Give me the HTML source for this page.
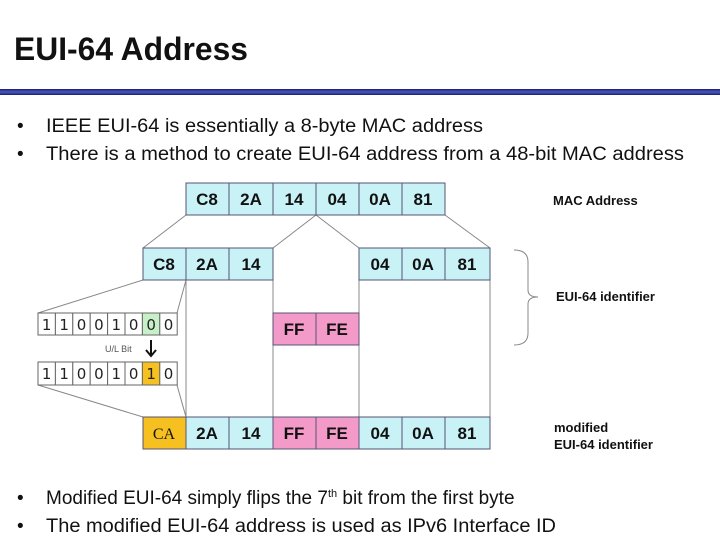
<!DOCTYPE html>
<html><head><meta charset="utf-8"><style>
html,body{margin:0;padding:0;background:#fff;}
svg{display:block;}
</style></head><body>
<svg width="720" height="539" xmlns="http://www.w3.org/2000/svg" font-family="Liberation Sans, sans-serif">
<defs>
<linearGradient id="bl" x1="0" y1="0" x2="0" y2="1">
<stop offset="0" stop-color="#1a1f6e"/><stop offset="0.5" stop-color="#4a58c0"/><stop offset="1" stop-color="#1a1f6e"/>
</linearGradient>
</defs>
<text x="14" y="60" font-size="32" font-weight="bold" fill="#111" textLength="234" lengthAdjust="spacingAndGlyphs">EUI-64 Address</text>
<rect x="0" y="89" width="720" height="6" fill="url(#bl)"/>
<g font-size="19" fill="#111">
<text x="17" y="132">•</text><text x="46" y="132" textLength="437" lengthAdjust="spacingAndGlyphs">IEEE EUI-64 is essentially a 8-byte MAC address</text>
<text x="17" y="160">•</text><text x="46" y="160" textLength="638" lengthAdjust="spacingAndGlyphs">There is a method to create EUI-64 address  from a 48-bit MAC address</text>
<text x="17" y="504">•</text><text x="46" y="504">Modified EUI-64 simply flips the 7<tspan font-size="11" dy="-7">th</tspan><tspan dy="7"> bit from the first byte</tspan></text>
<text x="17" y="532">•</text><text x="46" y="532" textLength="510" lengthAdjust="spacingAndGlyphs">The modified EUI-64 address is used as IPv6 Interface ID</text>
</g>
<!-- connectors -->
<g stroke="#888" stroke-width="1" fill="none">
<line x1="186" y1="215" x2="143" y2="248"/>
<line x1="316" y1="215" x2="273" y2="248"/>
<line x1="316" y1="215" x2="359" y2="248"/>
<line x1="445" y1="215" x2="490" y2="248"/>
<line x1="143" y1="280" x2="38" y2="313"/>
<line x1="186" y1="280" x2="177" y2="313"/>
<line x1="38" y1="385" x2="143" y2="417"/>
<line x1="177" y1="385" x2="186" y2="417"/>
<line x1="186" y1="280" x2="186" y2="417"/>
<line x1="273" y1="248" x2="273" y2="417"/>
<line x1="359" y1="248" x2="359" y2="417"/>
<line x1="490" y1="280" x2="490" y2="417"/>
<path d="M514 250 Q528 250 528 262 L528 290 Q528 297 538 297 Q528 297 528 304 L528 333 Q528 345 514 345"/>
</g>
<g stroke="#557" stroke-width="1" font-size="17" font-weight="bold" text-anchor="middle" fill="#111">
<g>
<rect x="186" y="183" width="43" height="32" fill="#c8f2f6"/><rect x="229" y="183" width="44" height="32" fill="#c8f2f6"/><rect x="273" y="183" width="43" height="32" fill="#c8f2f6"/><rect x="316" y="183" width="43" height="32" fill="#c8f2f6"/><rect x="359" y="183" width="43" height="32" fill="#c8f2f6"/><rect x="402" y="183" width="43" height="32" fill="#c8f2f6"/>
</g>
<g stroke="none">
<text x="207" y="205">C8</text><text x="251" y="205">2A</text><text x="294" y="205">14</text><text x="337" y="205">04</text><text x="380" y="205">0A</text><text x="423" y="205">81</text>
</g>
<rect x="143" y="248" width="43" height="32" fill="#c8f2f6"/><rect x="186" y="248" width="43" height="32" fill="#c8f2f6"/><rect x="229" y="248" width="44" height="32" fill="#c8f2f6"/>
<rect x="359" y="248" width="43" height="32" fill="#c8f2f6"/><rect x="402" y="248" width="43" height="32" fill="#c8f2f6"/><rect x="445" y="248" width="45" height="32" fill="#c8f2f6"/>
<g stroke="none">
<text x="164" y="270">C8</text><text x="207" y="270">2A</text><text x="251" y="270">14</text><text x="380" y="270">04</text><text x="423" y="270">0A</text><text x="467" y="270">81</text>
</g>
<rect x="273" y="313" width="43" height="32" fill="#f49ac8"/><rect x="316" y="313" width="43" height="32" fill="#f49ac8"/>
<g stroke="none"><text x="294" y="335">FF</text><text x="337" y="335">FE</text></g>
<rect x="143" y="417" width="43" height="32" fill="#f6c020"/>
<rect x="186" y="417" width="43" height="32" fill="#c8f2f6"/><rect x="229" y="417" width="44" height="32" fill="#c8f2f6"/>
<rect x="273" y="417" width="43" height="32" fill="#f49ac8"/><rect x="316" y="417" width="43" height="32" fill="#f49ac8"/>
<rect x="359" y="417" width="43" height="32" fill="#c8f2f6"/><rect x="402" y="417" width="43" height="32" fill="#c8f2f6"/><rect x="445" y="417" width="45" height="32" fill="#c8f2f6"/>
<g stroke="none">
<text x="164" y="439" font-family="Liberation Serif, serif" font-weight="normal" font-size="16">CA</text><text x="207" y="439">2A</text><text x="251" y="439">14</text><text x="294" y="439">FF</text><text x="337" y="439">FE</text><text x="380" y="439">04</text><text x="423" y="439">0A</text><text x="467" y="439">81</text>
</g>
</g>
<g stroke="#666" stroke-width="1" fill="#fff">
<rect x="38" y="313" width="17.4" height="22"/><rect x="55.4" y="313" width="17.4" height="22"/><rect x="72.8" y="313" width="17.4" height="22"/><rect x="90.2" y="313" width="17.4" height="22"/><rect x="107.6" y="313" width="17.4" height="22"/><rect x="125" y="313" width="17.4" height="22"/><rect x="142.4" y="313" width="17.4" height="22" fill="#c8f0c8"/><rect x="159.8" y="313" width="17.4" height="22"/>
<rect x="38" y="362" width="17.4" height="23"/><rect x="55.4" y="362" width="17.4" height="23"/><rect x="72.8" y="362" width="17.4" height="23"/><rect x="90.2" y="362" width="17.4" height="23"/><rect x="107.6" y="362" width="17.4" height="23"/><rect x="125" y="362" width="17.4" height="23"/><rect x="142.4" y="362" width="17.4" height="23" fill="#f6c020"/><rect x="159.8" y="362" width="17.4" height="23"/>
</g>
<g font-family="DejaVu Sans, sans-serif" font-size="15" text-anchor="middle" fill="#222">
<text x="46.7" y="330">1</text><text x="64.1" y="330">1</text><text x="81.5" y="330">0</text><text x="98.9" y="330">0</text><text x="116.3" y="330">1</text><text x="133.7" y="330">0</text><text x="151.1" y="330">0</text><text x="168.5" y="330">0</text>
<text x="46.7" y="379">1</text><text x="64.1" y="379">1</text><text x="81.5" y="379">0</text><text x="98.9" y="379">0</text><text x="116.3" y="379">1</text><text x="133.7" y="379">0</text><text x="151.1" y="379">1</text><text x="168.5" y="379">0</text>
</g>
<text x="105" y="352" font-size="9" fill="#555">U/L Bit</text>
<g stroke="#111" stroke-width="2" fill="none"><line x1="151" y1="340" x2="151" y2="355"/><path d="M146 350 L151 356 L156 350"/></g>
<g font-size="13" font-weight="bold" fill="#111">
<text x="553" y="205">MAC Address</text>
<text x="556" y="301">EUI-64 identifier</text>
<text x="554" y="432">modified</text>
<text x="554" y="449">EUI-64 identifier</text>
</g>
</svg>
</body></html>
